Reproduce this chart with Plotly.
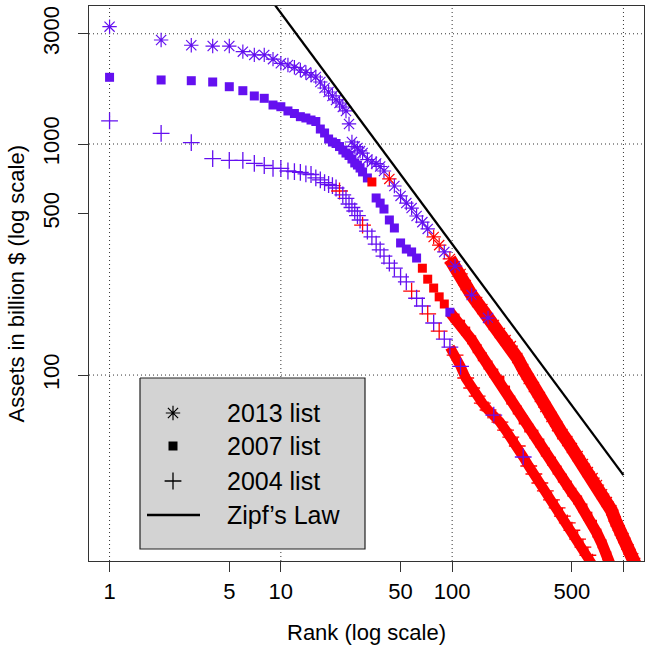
import plotly.graph_objects as go

# ---------------- data ----------------
ranks = list(range(1, 31)) + [
    32, 34, 36, 38, 40, 43, 46, 50, 54, 58, 62, 67, 72, 78, 84, 90, 97, 104,
    112, 120, 130, 140, 150, 162, 175, 190, 205, 220, 240, 260, 280, 300, 325,
    350, 380, 410, 440, 470, 500, 540, 580, 620, 660, 700, 750, 800, 850, 900,
    950, 1000, 1070, 1140, 1210, 1290]

assets_2013 = [
    3220, 2820, 2675, 2655, 2655, 2510, 2430, 2430, 2330, 2235,
    2198, 2148, 2091, 2039, 1989, 1950, 1855, 1747, 1679, 1614,
    1551, 1505, 1446, 1390, 1221, 1020, 975, 961, 933, 914,
    857, 836, 823, 799, 764,
    706, 658, 596, 555, 528,
    488, 459, 429, 396, 365,
    341, 318, 296, 274, 245,
    222, 207, 193, 176.5, 164.6,
    152, 141.7, 133.5, 118.5, 106.2,
    96.1, 88.7, 80.3, 72.7, 65.8,
    60.1, 55.5, 51.8, 48.3, 44.6,
    41.2, 38.0, 35.8, 33.4, 30.5,
    28.2, 26.0, 23.3, 21.3, 19.7,
    17.6, 16.1, 14.6, 13.0]

assets_2007 = [
    1944, 1893, 1879, 1855, 1770, 1701, 1614, 1577, 1475, 1450,
    1390, 1355, 1313, 1296, 1270, 1251, 1161, 1116, 1051, 1020,
    1005, 975, 942, 914, 892, 861, 828, 811, 787, 757,
    713, 685, 584, 555, 523,
    469, 433, 373, 351, 341,
    321, 290, 260, 238, 218,
    203, 187, 176.5, 166, 155,
    142, 130, 120, 110.5, 102,
    95.1, 86.1, 77.9, 70.6, 63.9,
    59.0, 55.5, 50.8, 46.4, 42.4,
    38.8, 35.8, 33.4, 31.1, 28.8,
    26.6, 24.5, 22.6, 20.7, 18.6,
    16.5, 14.8, 13.2]

assets_2004 = [
    1258, 1112, 1013, 864, 850, 850, 825, 807, 785, 785,
    764, 759, 753, 742, 738, 713, 699, 681, 668, 661,
    645, 626, 602, 582, 550, 531, 513, 490, 469, 446,
    420, 396, 369, 348, 327,
    305, 290, 266, 253, 231,
    215, 199, 184, 168, 155,
    143, 132, 122, 109, 97.1,
    87.9, 81.1, 75.6, 70.6, 67.1,
    62.6, 57.8, 53.9, 49.3, 44.2,
    40.4, 37.3, 34.1, 31.5, 28.8,
    26.6, 24.5, 22.9, 21.3, 19.5,
    18.0, 16.6, 15.5, 14.3, 13.0]

zipf_rank = [1, 1000]
zipf_assets = [36900, 36.9]

x_ticks = [1, 5, 10, 50, 100, 500, 1000]
x_tick_labels = ["1", "5", "10", "50", "100", "500", ""]
y_ticks = [100, 500, 1000, 3000]
y_tick_labels = ["100", "500", "1000", "3000"]
grid_x = [1, 10, 100, 1000]
grid_y = [100, 1000, 3000]

legend_labels = ["2013 list", "2007 list", "2004 list", "Zipf\u2019s Law"]

# ---------------- style ----------------
PURPLE = "#6410F0"
RED = "#FF0000"
FONT = "Liberation Sans, Arial, Helvetica, sans-serif"
X_RANGE = [-0.12, 3.12]
Y_RANGE = [1.1952, 3.5973]


def colours(n, red_from, red_extra, purple_extra):
    out = []
    for r in ranks[:n]:
        is_red = (r >= red_from and r not in purple_extra) or r in red_extra
        out.append(RED if is_red else PURPLE)
    return out


series = [
    dict(name="2013", y=assets_2013, symbol="asterisk-open", size=12, lw=1.2,
         band=13, red_from=120, red_extra={43, 78, 84, 97, 112},
         purple_extra={130, 162}),
    dict(name="2007", y=assets_2007, symbol="square", size=9, lw=0,
         band=11, red_from=104, red_extra={34, 67, 72, 78, 84, 90},
         purple_extra=set()),
    dict(name="2004", y=assets_2004, symbol="cross-thin-open", size=12, lw=1.3,
         band=10, red_from=104, red_extra={22, 30, 58, 72, 84},
         purple_extra={112, 175, 260}),
]

fig = go.Figure()

# grid lines (dotted)
y_lo, y_hi = 10 ** Y_RANGE[0], 10 ** Y_RANGE[1]
x_lo, x_hi = 10 ** X_RANGE[0], 10 ** X_RANGE[1]
GRID = dict(color="#333333", width=1, dash="1px,3px")
for gx in grid_x:
    fig.add_trace(go.Scatter(x=[gx, gx], y=[y_lo, y_hi], mode="lines",
                             line=GRID, hoverinfo="skip", showlegend=False))
for gy in grid_y:
    fig.add_trace(go.Scatter(x=[x_lo, x_hi], y=[gy, gy], mode="lines",
                             line=GRID, hoverinfo="skip", showlegend=False))

# dense tails drawn as solid red ribbons underneath the markers
for s in series:
    n = len(s["y"])
    xs = [r for r in ranks[:n] if r >= 97]
    ys = [v for r, v in zip(ranks[:n], s["y"]) if r >= 97]
    fig.add_trace(go.Scatter(x=xs, y=ys, mode="lines",
                             line=dict(color=RED, width=s["band"]),
                             hoverinfo="skip", showlegend=False))

for s in series:
    n = len(s["y"])
    cols = colours(n, s["red_from"], s["red_extra"], s["purple_extra"])
    fig.add_trace(go.Scatter(
        x=ranks[:n], y=s["y"], mode="markers", name=s["name"],
        marker=dict(symbol=s["symbol"], size=s["size"], color=cols,
                    line=dict(color=cols, width=s["lw"])),
        showlegend=False))

# Zipf's law
fig.add_trace(go.Scatter(x=zipf_rank, y=zipf_assets, mode="lines",
                         line=dict(color="black", width=2.3),
                         showlegend=False))

# ---------------- legend (drawn in an overlay pixel frame) ----------------
box_x = [140, 365, 365, 140, 140]
box_y = [378, 378, 549, 549, 378]
fig.add_trace(go.Scatter(x=box_x, y=box_y, xaxis="x2", yaxis="y2",
                         mode="lines", fill="toself", fillcolor="#D3D3D3",
                         line=dict(color="#222222", width=1.2),
                         hoverinfo="skip", showlegend=False))
row_y = [413, 446, 481, 515]
sym_x = 173
for s, ry in zip(series, row_y[:3]):
    fig.add_trace(go.Scatter(x=[sym_x], y=[ry], xaxis="x2", yaxis="y2",
                             mode="markers",
                             marker=dict(symbol=s["symbol"], size=s["size"],
                                         color="black",
                                         line=dict(color="black", width=s["lw"])),
                             hoverinfo="skip", showlegend=False))
fig.add_trace(go.Scatter(x=[147, 200], y=[row_y[3], row_y[3]], xaxis="x2",
                         yaxis="y2", mode="lines",
                         line=dict(color="black", width=2.3),
                         hoverinfo="skip", showlegend=False))
for lab, ry in zip(legend_labels, row_y):
    fig.add_annotation(x=225, y=ry, xref="x2", yref="y2", text=lab,
                       showarrow=False, xanchor="left", yanchor="middle",
                       font=dict(family=FONT, size=25, color="black"))

# axis titles
fig.add_annotation(x=0.5, y=-0.128, xref="paper", yref="paper",
                   text="Rank (log scale)", showarrow=False,
                   xanchor="center", yanchor="middle",
                   font=dict(family=FONT, size=22, color="black"))
fig.add_annotation(x=-0.1315, y=0.5, xref="paper", yref="paper",
                   text="Assets in billion $ (log scale)", showarrow=False,
                   textangle=-90, xanchor="center", yanchor="middle",
                   font=dict(family=FONT, size=22, color="black"))

fig.update_layout(
    width=651, height=651,
    margin=dict(l=89, r=7, t=6, b=90),
    paper_bgcolor="white", plot_bgcolor="white",
    font=dict(family=FONT, size=22, color="black"),
    xaxis=dict(type="log", range=X_RANGE, tickmode="array",
               tickvals=x_ticks, ticktext=x_tick_labels,
               ticks="outside", ticklen=10, tickwidth=1.2, tickcolor="#333333",
               showgrid=False, zeroline=False, showline=True, mirror=True,
               linecolor="#333333", linewidth=1.3,
               tickfont=dict(family=FONT, size=22, color="black")),
    yaxis=dict(type="log", range=Y_RANGE, tickmode="array",
               tickvals=y_ticks, ticktext=y_tick_labels, tickangle=-90,
               ticks="outside", ticklen=10, tickwidth=1.2, tickcolor="#333333",
               ticklabelstandoff=10,
               showgrid=False, zeroline=False, showline=True, mirror=True,
               linecolor="#333333", linewidth=1.3,
               tickfont=dict(family=FONT, size=22, color="black")),
    xaxis2=dict(overlaying="x", range=[89, 644], visible=False,
                showgrid=False, zeroline=False),
    yaxis2=dict(overlaying="y", range=[561, 6], visible=False,
                showgrid=False, zeroline=False),
    showlegend=False,
)

fig.write_html("out.html",
               config={"displayModeBar": False},
               post_script="document.body.style.margin='0';"
                           "document.body.style.padding='0';")
